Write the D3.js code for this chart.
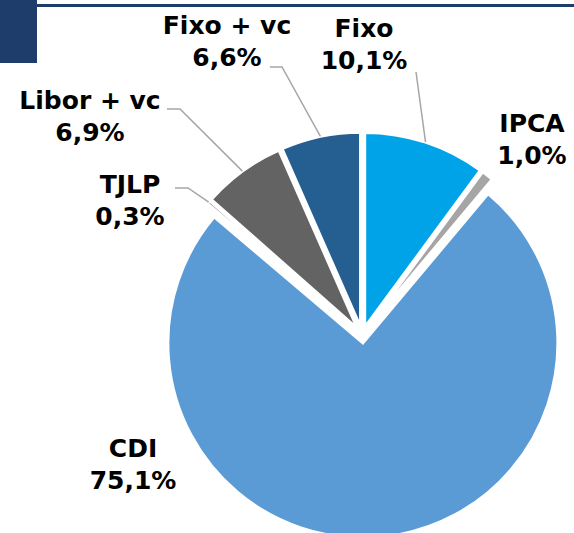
<!DOCTYPE html>
<html>
<head>
<meta charset="utf-8">
<script src="https://cdn.jsdelivr.net/npm/d3@7/dist/d3.min.js"></script>
<style>
  html, body { margin: 0; padding: 0; background: #fff; }
  svg { display: block; }
</style>
</head>
<body>
<svg id="chart" width="574" height="533"></svg>
<script>
// Debt breakdown by indexer (share of total, %)
const categories = ["Fixo", "IPCA", "CDI", "TJLP", "Libor + vc", "Fixo + vc"];
const values = [10.1, 1.0, 75.1, 0.3, 6.9, 6.6];
const valueLabels = ["10,1%", "1,0%", "75,1%", "0,3%", "6,9%", "6,6%"];
const colors = ["#00A3E7", "#A5A5A5", "#5B9BD5", "#8C8C8C", "#636363", "#255E91"];

// Label placement: centre x, first baseline y, and optional leader start / elbow
const labelLayout = [
  { x: 364, y: 37, leader: [[416, 72], [416, 72]] },
  { x: 532, y: 132, leader: null },
  { x: 133, y: 457, leader: null },
  { x: 130, y: 193, leader: [[175, 188], [188, 188]] },
  { x: 90, y: 109, leader: [[167, 109], [180, 109]] },
  { x: 227, y: 34, leader: [[270, 67], [282, 67]] }
];

const svg = d3.select("#chart");

// Header decoration
svg.append("rect").attr("x", 0).attr("y", 0).attr("width", 37).attr("height", 63).attr("fill", "#1F3D6A");
svg.append("rect").attr("x", 37).attr("y", 4).attr("width", 537).attr("height", 3).attr("fill", "#1F3D6A");

const cx = 362.2, cy = 335, radius = 195, explode = 8;

const data = categories.map((c, i) => ({ name: c, value: values[i], label: valueLabels[i], color: colors[i], layout: labelLayout[i] }));

const pie = d3.pie().sort(null).value(d => d.value).startAngle(0).endAngle(2 * Math.PI);
const arc = d3.arc().innerRadius(0).outerRadius(radius);
const arcs = pie(data);

const offset = a => {
  const m = (a.startAngle + a.endAngle) / 2;
  return [Math.sin(m) * explode, -Math.cos(m) * explode];
};

const g = svg.append("g").attr("transform", `translate(${cx},${cy})`);

g.selectAll("path.slice")
  .data(arcs)
  .join("path")
  .attr("class", "slice")
  .attr("transform", a => { const o = offset(a); return `translate(${o[0]},${o[1]})`; })
  .attr("d", arc)
  .attr("fill", a => a.data.color)
  .attr("stroke", "#fff")
  .attr("stroke-width", 3)
  .attr("stroke-linejoin", "miter");

// Leader lines from label to the outer edge of each slice
arcs.forEach(a => {
  const L = a.data.layout;
  if (!L.leader) return;
  const m = (a.startAngle + a.endAngle) / 2;
  const o = offset(a);
  const ex = cx + o[0] + Math.sin(m) * radius;
  const ey = cy + o[1] - Math.cos(m) * radius;
  const pts = [L.leader[0], L.leader[1], [ex, ey]];
  svg.append("path")
    .attr("d", d3.line()(pts))
    .attr("fill", "none")
    .attr("stroke", "#A6A6A6")
    .attr("stroke-width", 1.5);
});

// Category and value labels
const labels = svg.append("g")
  .attr("font-family", "'DejaVu Sans', sans-serif")
  .attr("font-weight", "bold")
  .attr("font-size", 25)
  .attr("fill", "#000")
  .attr("text-anchor", "middle");

data.forEach(d => {
  const t = labels.append("text").attr("x", d.layout.x).attr("y", d.layout.y);
  t.append("tspan").attr("x", d.layout.x).text(d.name);
  t.append("tspan").attr("x", d.layout.x).attr("dy", 32).text(d.label);
});
</script>
</body>
</html>
